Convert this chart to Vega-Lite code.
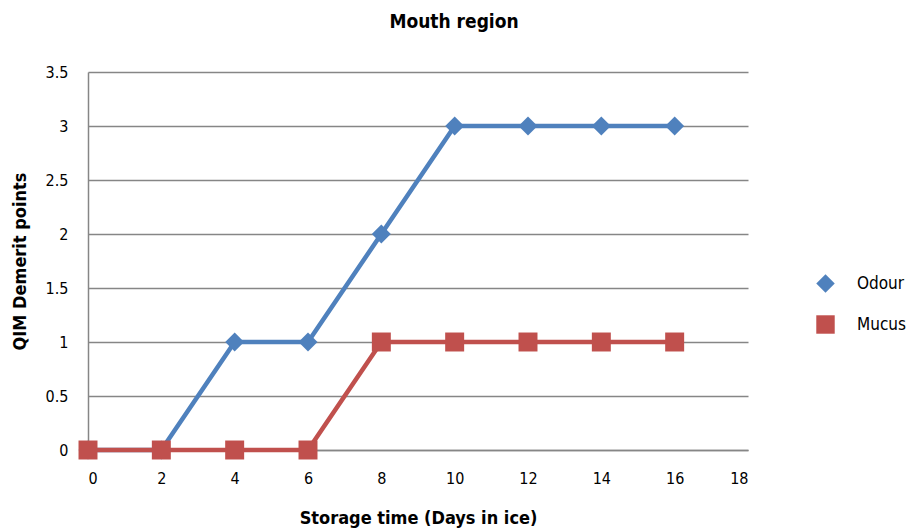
{
  "$schema": "https://vega.github.io/schema/vega-lite/v6.json",
  "width": 660,
  "height": 378,
  "autosize": "none",
  "padding": {"left": 88, "top": 72, "right": 160, "bottom": 81},
  "background": "white",
  "config": {
    "view": {"stroke": null},
    "font": "DejaVu Sans Condensed"
  },
  "title": {
    "text": "Mouth region",
    "font": "DejaVu Sans Condensed",
    "fontSize": 19,
    "fontWeight": "bold",
    "color": "black",
    "anchor": "middle",
    "dx": 36,
    "offset": 32
  },
  "data": {
    "values": [
      {"day": 0, "series": "Odour", "value": 0},
      {"day": 2, "series": "Odour", "value": 0},
      {"day": 4, "series": "Odour", "value": 1},
      {"day": 6, "series": "Odour", "value": 1},
      {"day": 8, "series": "Odour", "value": 2},
      {"day": 10, "series": "Odour", "value": 3},
      {"day": 12, "series": "Odour", "value": 3},
      {"day": 14, "series": "Odour", "value": 3},
      {"day": 16, "series": "Odour", "value": 3},
      {"day": 0, "series": "Mucus", "value": 0},
      {"day": 2, "series": "Mucus", "value": 0},
      {"day": 4, "series": "Mucus", "value": 0},
      {"day": 6, "series": "Mucus", "value": 0},
      {"day": 8, "series": "Mucus", "value": 1},
      {"day": 10, "series": "Mucus", "value": 1},
      {"day": 12, "series": "Mucus", "value": 1},
      {"day": 14, "series": "Mucus", "value": 1},
      {"day": 16, "series": "Mucus", "value": 1}
    ]
  },
  "encoding": {
    "x": {
      "field": "day",
      "type": "quantitative",
      "scale": {"domain": [0, 18], "nice": false},
      "axis": {
        "values": [0, 2, 4, 6, 8, 10, 12, 14, 16, 18],
        "title": "Storage time (Days in ice)",
        "titleFont": "DejaVu Sans Condensed",
        "titleFontSize": 18,
        "titleFontWeight": "bold",
        "titleColor": "black",
        "titlePadding": 23,
        "labelFont": "DejaVu Sans Condensed",
        "labelFontSize": 16,
        "labelColor": "black",
        "labelPadding": 20,
        "ticks": false,
        "grid": false,
        "domainColor": "#868686",
        "domainWidth": 1.5
      }
    },
    "y": {
      "field": "value",
      "type": "quantitative",
      "scale": {"domain": [0, 3.5], "nice": false},
      "axis": {
        "values": [0, 0.5, 1, 1.5, 2, 2.5, 3, 3.5],
        "format": "~g",
        "title": "QIM Demerit points",
        "titleFont": "DejaVu Sans Condensed",
        "titleFontSize": 18,
        "titleFontWeight": "bold",
        "titleColor": "black",
        "titlePadding": 16,
        "labelFont": "DejaVu Sans Condensed",
        "labelFontSize": 16,
        "labelColor": "black",
        "labelPadding": 20,
        "ticks": false,
        "grid": true,
        "gridColor": "#868686",
        "gridWidth": 1.3,
        "domainColor": "#868686",
        "domainWidth": 1.5
      }
    }
  },
  "layer": [
    {
      "mark": {"type": "line", "strokeWidth": 4.5, "clip": false},
      "encoding": {
        "color": {
          "field": "series",
          "type": "nominal",
          "sort": ["Odour", "Mucus"],
          "scale": {"domain": ["Odour", "Mucus"], "range": ["#4F81BD", "#C0504D"]},
          "legend": {
            "title": null,
            "orient": "none",
            "legendX": 728,
            "legendY": 202,
            "padding": 0,
            "symbolSize": 340,
            "symbolStrokeWidth": 0,
            "symbolOpacity": 1,
            "rowPadding": 22,
            "labelOffset": 22,
            "labelFontSize": 17,
            "labelColor": "black",
            "labelFont": "DejaVu Sans Condensed"
          }
        }
      }
    },
    {
      "mark": {"type": "point", "filled": true, "opacity": 1, "size": 360, "clip": false},
      "encoding": {
        "color": {
          "field": "series",
          "type": "nominal",
          "scale": {"domain": ["Odour", "Mucus"], "range": ["#4F81BD", "#C0504D"]},
          "legend": null
        },
        "shape": {
          "field": "series",
          "type": "nominal",
          "scale": {"domain": ["Odour", "Mucus"], "range": ["diamond", "square"]},
          "legend": null
        },
        "order": {"field": "series", "sort": "descending"}
      }
    }
  ]
}
